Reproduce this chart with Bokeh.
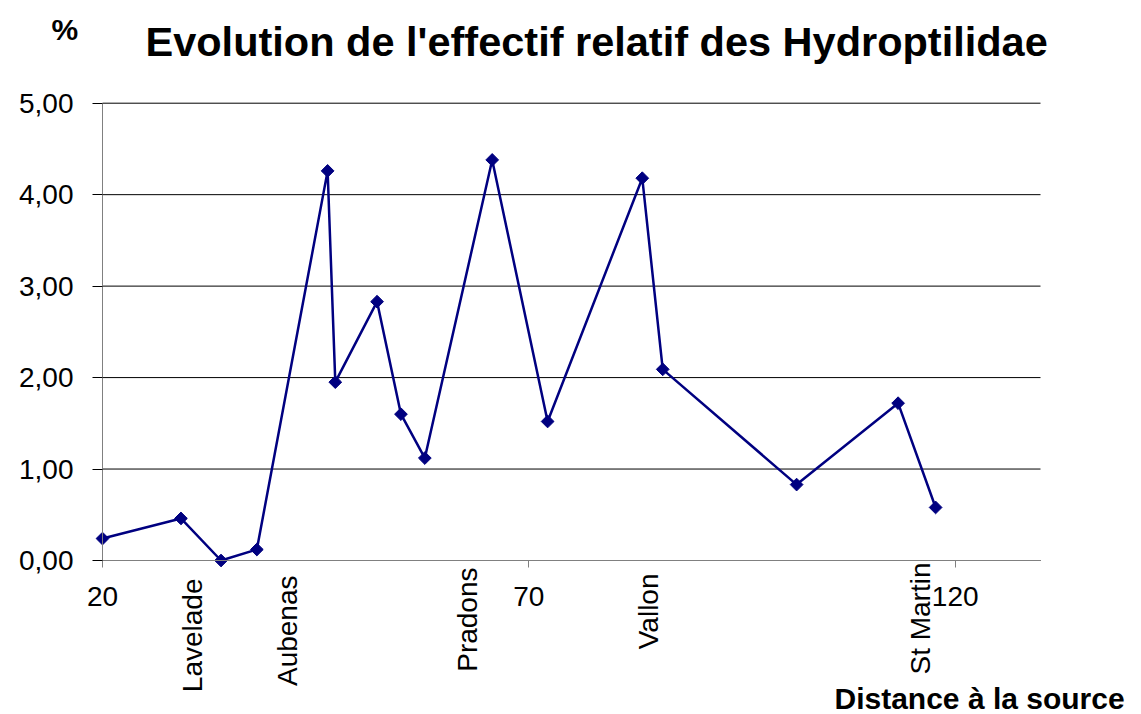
import math
from bokeh.plotting import figure
from bokeh.models import Range1d, FixedTicker, Label, LabelSet, ColumnDataSource
from bokeh.core.properties import value
from bokeh.embed import file_html
from bokeh.resources import INLINE

# ---- data ----
distance = [20.0, 29.2, 33.9, 38.1, 46.4, 47.3, 52.2, 55.0, 57.8, 65.7, 72.2, 83.3, 85.7, 101.4, 113.3, 117.7]
effectif = [0.24, 0.46, 0.0, 0.12, 4.26, 1.95, 2.83, 1.60, 1.12, 4.38, 1.52, 4.18, 2.09, 0.83, 1.72, 0.58]

sites = ["Lavelade", "Aubenas", "Pradons", "Vallon", "St Martin"]
site_distance = [30.5, 41.7, 62.8, 84.0, 115.9]

x_ticks = [20, 70, 120]
x_tick_labels = ["20", "70", "120"]
y_ticks = [0, 1, 2, 3, 4, 5]
y_tick_labels = ["0,00", "1,00", "2,00", "3,00", "4,00", "5,00"]

title_text = "Evolution de l'effectif relatif des Hydroptilidae"
y_unit_text = "%"
x_label_text = "Distance à la source"

# ---- layout (page pixels) / style ----
W, H = 1141, 714
X_LO, X_HI = 20, 130          # axis limits
Y_LO, Y_HI = 0, 5
PX_LEFT, PX_RIGHT = 102, 1040  # where the plot area sits on the page
PX_TOP, PX_BOTTOM = 102.7, 560
site_label_top_px = [578, 575, 567, 573, 562]

FONT = "Liberation Sans"
NAVY = "#000080"

kx = (PX_RIGHT - PX_LEFT) / (X_HI - X_LO)
ky = (PX_BOTTOM - PX_TOP) / (Y_HI - Y_LO)
x_range = Range1d(X_LO - PX_LEFT / kx, X_HI + (W - PX_RIGHT) / kx)
y_range = Range1d(Y_LO - (H - PX_BOTTOM) / ky, Y_HI + PX_TOP / ky)

p = figure(width=W, height=H, output_backend="svg", toolbar_location=None,
           x_range=x_range, y_range=y_range)
p.min_border = 0
p.min_border_left = p.min_border_right = p.min_border_top = p.min_border_bottom = 0
p.outline_line_color = None
p.background_fill_color = "white"
p.border_fill_color = "white"
p.xgrid.visible = False
p.ygrid.visible = False

# horizontal grid lines across the plot area, one per y tick
n = len(y_ticks)
p.segment(x0=[X_LO] * n, x1=[X_HI] * n, y0=y_ticks, y1=y_ticks,
          line_color="black", line_width=1)

# y axis
p.yaxis.fixed_location = X_LO
p.yaxis.bounds = (Y_LO, Y_HI)
p.yaxis.ticker = FixedTicker(ticks=y_ticks)
p.yaxis.major_label_overrides = {t: l for t, l in zip(y_ticks, y_tick_labels)}
p.yaxis.axis_line_color = "#808080"
p.yaxis.major_tick_line_color = "black"
p.yaxis.major_tick_out = 10
p.yaxis.major_tick_in = 0
p.yaxis.minor_tick_line_color = None
p.yaxis.major_label_standoff = 19
p.yaxis.major_label_text_font = FONT
p.yaxis.major_label_text_font_size = "28px"
p.yaxis.major_label_text_color = "black"

# x axis
p.xaxis.fixed_location = Y_LO
p.xaxis.bounds = (X_LO, X_HI)
p.xaxis.ticker = FixedTicker(ticks=x_ticks)
p.xaxis.major_label_overrides = {t: l for t, l in zip(x_ticks, x_tick_labels)}
p.xaxis.axis_line_color = "#808080"
p.xaxis.major_tick_line_color = "#808080"
p.xaxis.major_tick_out = 7
p.xaxis.major_tick_in = 0
p.xaxis.minor_tick_line_color = None
p.xaxis.major_label_standoff = 19
p.xaxis.major_label_text_font = FONT
p.xaxis.major_label_text_font_size = "28px"
p.xaxis.major_label_text_color = "black"

# series
p.line(distance, effectif, line_color=NAVY, line_width=2.5)
p.scatter(distance, effectif, marker="square", size=9, angle=math.pi / 4,
          fill_color=NAVY, line_color=NAVY)

# site labels (rotated, below the axis)
src = ColumnDataSource(dict(x=site_distance, y=[H - t for t in site_label_top_px], text=sites))
p.add_layout(LabelSet(x="x", y="y", text="text", source=src, x_units="data", y_units="screen",
                      angle=math.pi / 2, text_align="right", text_baseline="middle",
                      text_font=value(FONT), text_font_size=value("28px"),
                      text_color="black"))

# title, unit and x label (screen units = page pixels, y measured upward)
p.add_layout(Label(x=145, y=H - 41, x_units="screen", y_units="screen", text=title_text,
                   text_font=FONT, text_font_style="bold", text_font_size="41.5px",
                   text_baseline="alphabetic", text_align="left", text_color="black"))
p.add_layout(Label(x=51, y=H - 29, x_units="screen", y_units="screen", text=y_unit_text,
                   text_font=FONT, text_font_style="bold", text_font_size="30px",
                   text_baseline="alphabetic", text_align="left", text_color="black"))
p.add_layout(Label(x=834, y=H - 698, x_units="screen", y_units="screen", text=x_label_text,
                   text_font=FONT, text_font_style="bold", text_font_size="30px",
                   text_baseline="alphabetic", text_align="left", text_color="black"))

open("out.html", "w").write(file_html(p, INLINE))
